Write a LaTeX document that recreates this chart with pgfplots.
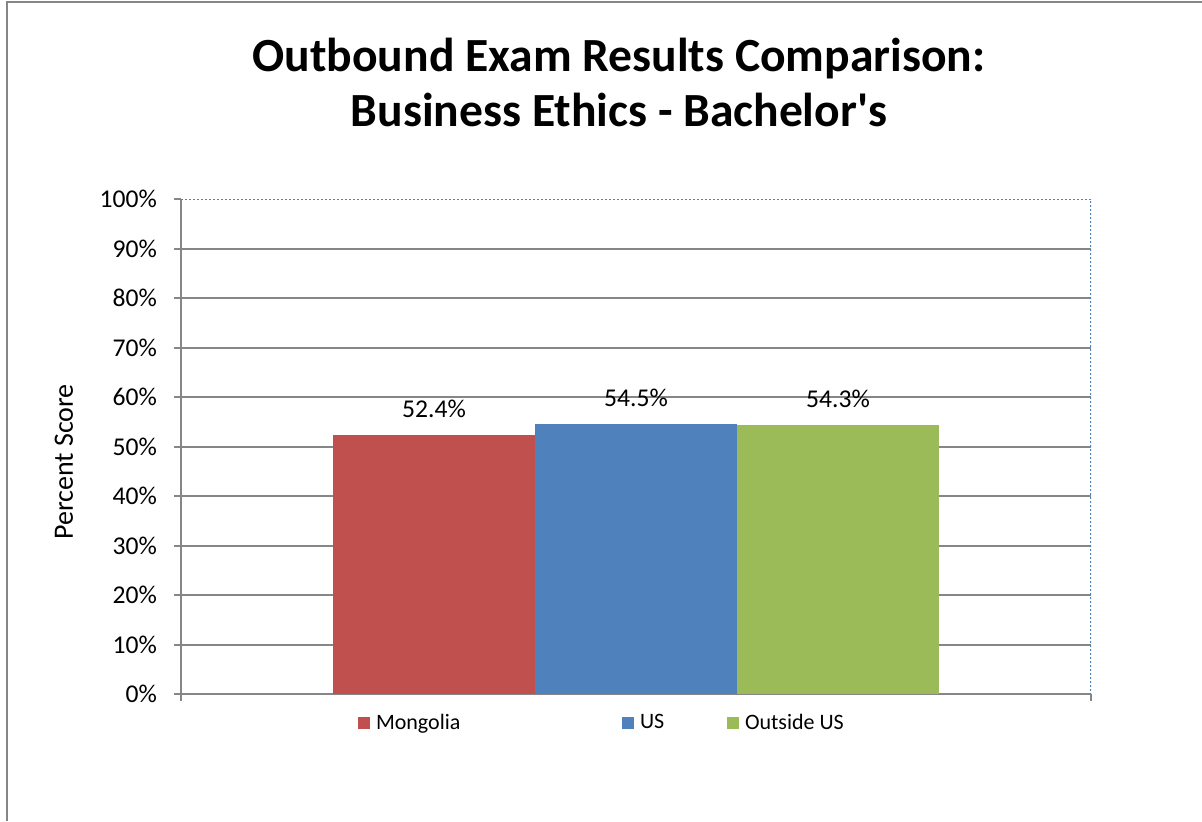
\documentclass[border=0pt]{standalone}
\usepackage{pgfplots}
\pgfplotsset{compat=1.18}
\usepackage{fontspec}
\setmainfont{Carlito}
\definecolor{cMon}{HTML}{C0504D}
\definecolor{cUS}{HTML}{4F81BD}
\definecolor{cOut}{HTML}{9BBB59}
\definecolor{gridgray}{HTML}{868686}
\begin{document}
\begin{tikzpicture}
\path[use as bounding box] (0,0) rectangle (601pt,410.5pt);
\draw[gridgray, line width=1pt] (3.5pt,0) -- (3.5pt,409.5pt) -- (601pt,409.5pt);
\node[font=\fontsize{23.8}{27.5}\selectfont\bfseries, align=center] at (309.5pt,369.5pt) {Outbound Exam Results Comparison:\\Business Ethics - Bachelor\textquotesingle s};
\node[rotate=90, font=\fontsize{14}{16}\selectfont] at (32pt,179.5pt) {Percent Score};
\begin{axis}[
  at={(90.5pt,63.5pt)}, anchor=south west,
  width=455pt, height=247.5pt, scale only axis,
  ybar=0pt, bar width=101pt,
  xmin=-1, xmax=1, ymin=0, ymax=100,
  axis x line*=bottom, axis y line*=left,
  axis line style={gridgray, line width=1pt},
  xtick={-1,1}, xticklabels={},
  ytick={0,10,...,100},
  yticklabel={\pgfmathprintnumber{\tick}\%},
  /pgf/number format/assume math mode=true,
  tick align=outside, major tick length=3.5pt,
  tick style={gridgray, line width=1pt},
  extra y ticks={10,20,...,90}, extra y tick labels={},
  extra y tick style={grid=major, major tick length=0pt},
  grid style={gridgray, line width=1pt},
  ticklabel style={font=\fontsize{12.8}{14}\selectfont},
  yticklabel style={xshift=-5pt},
  nodes near coords={\pgfmathprintnumber[fixed,fixed zerofill,precision=1]{\pgfplotspointmeta}\%},
  every node near coord/.append style={font=\fontsize{12.8}{14}\selectfont, anchor=center, yshift=13pt, black},
  legend columns=3,
  legend style={at={(0.1945,-0.059)}, anchor=west, draw=none, inner sep=0pt, outer sep=0pt,
    font=\fontsize{11}{13}\selectfont,
    /tikz/every odd column/.style={column sep=3pt},
    nodes={inner sep=0pt, anchor=west}},
  legend image code/.code={\fill[#1] (0pt,-3pt) rectangle (6pt,3pt);},
]
\addplot[fill=cMon, draw=none] coordinates {(0,52.4)};
\addplot[fill=cUS, draw=none] coordinates {(0,54.5)};
\addplot[fill=cOut, draw=none] coordinates {(0,54.3)};
\legend{\makebox[123pt][l]{Mongolia},\makebox[43.5pt][l]{US},Outside US}
\draw[cUS, line width=1pt, dash pattern=on 1pt off 1pt] (rel axis cs:0,1) -- (rel axis cs:1,1) -- (rel axis cs:1,0);
\end{axis}
\end{tikzpicture}
\end{document}
